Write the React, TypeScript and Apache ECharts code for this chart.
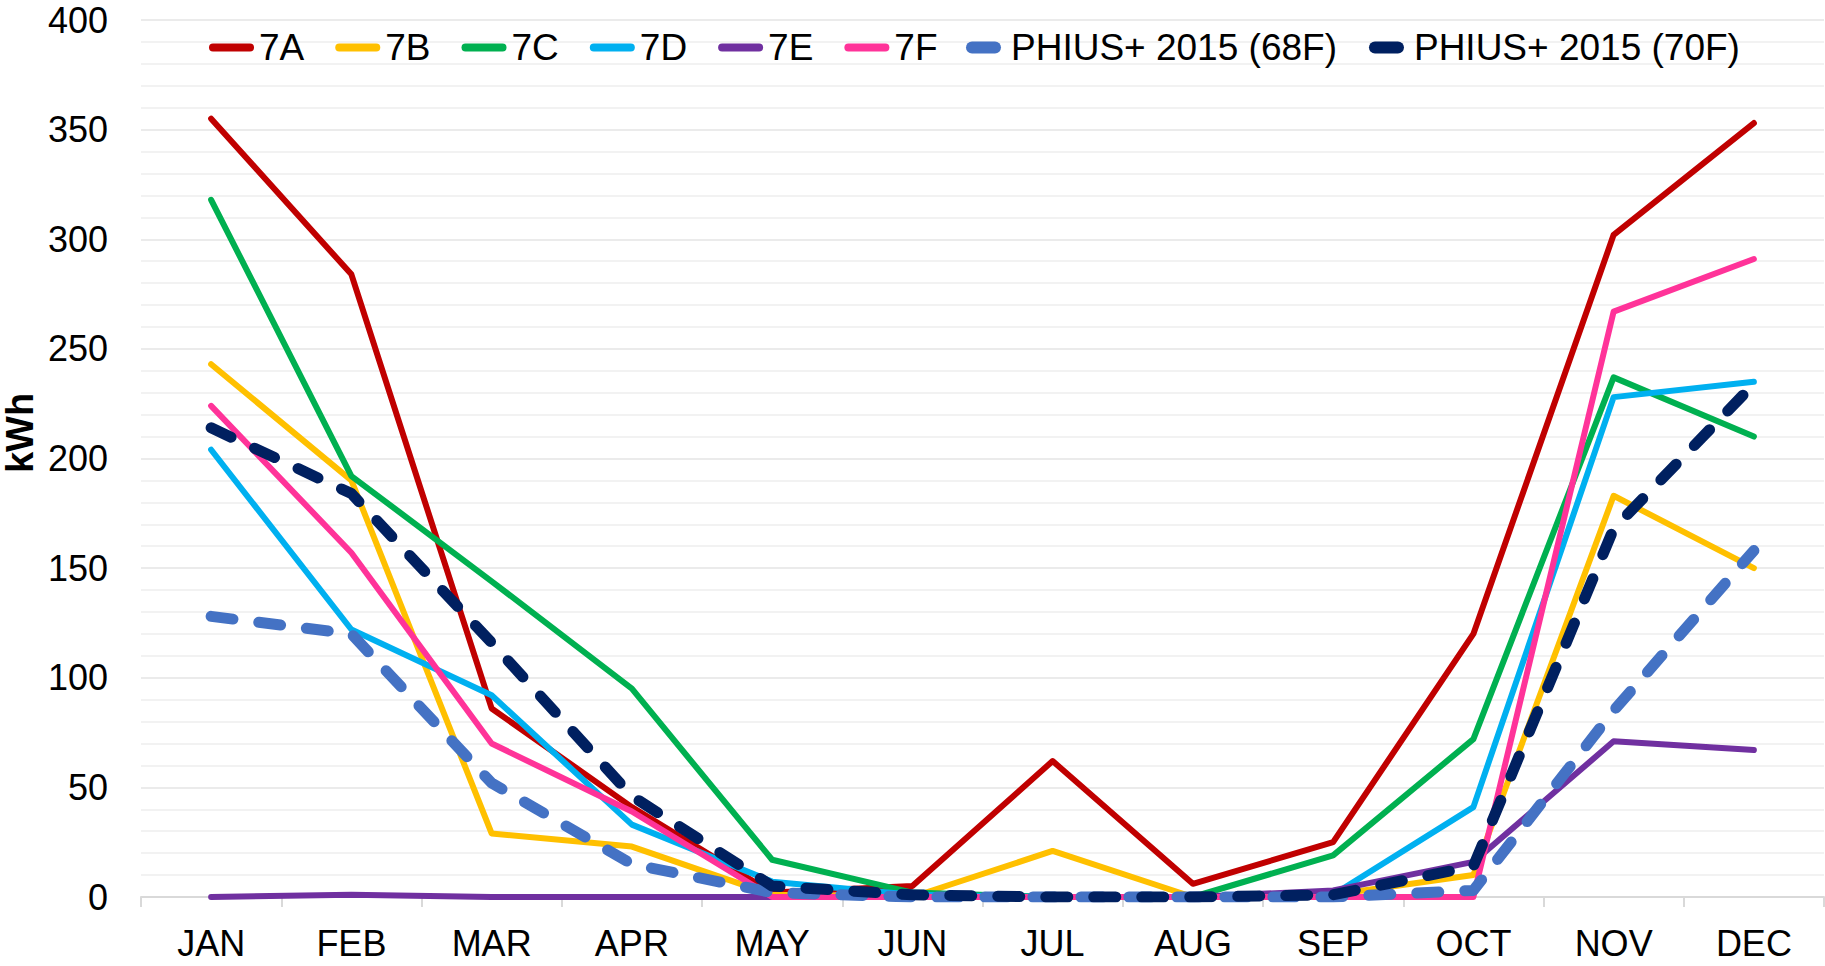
import React, { useEffect, useRef } from 'react';
import * as echarts from 'echarts';

const months = ['JAN', 'FEB', 'MAR', 'APR', 'MAY', 'JUN', 'JUL', 'AUG', 'SEP', 'OCT', 'NOV', 'DEC'];

const s7A = [355, 284, 86, 41, 2, 5, 62, 6, 25, 120, 302, 353];
const s7B = [243, 190, 29, 23, 1, 0, 21, 0, 1, 10, 183, 150];
const s7C = [318, 192, 144, 95, 17, 2, 0, 0, 19, 72, 237, 210];
const s7D = [204, 122, 92, 33, 7, 1, 0, 0, 1, 41, 228, 235];
const s7E = [0, 1, 0, 0, 0, 0, 0, 0, 3, 16, 71, 67];
const s7F = [224, 157, 70, 39, 0, 0, 0, 0, 0, 0, 267, 291];
const sP68 = [128, 120, 52, 15, 2, 0, 0, 0, 0, 3, 85, 158];
const sP70 = [214, 184, 116, 46, 5, 1, 0, 0, 1, 14, 168, 234];

const yTicks = { min: 0, max: 400, interval: 50 };

const FONT = "Arial, 'Liberation Sans', Helvetica, sans-serif";

export default function App() {
  const ref = useRef<HTMLDivElement>(null);

  useEffect(() => {
    const chart = echarts.init(ref.current!, null, { renderer: 'svg' });

    const solid = (name: string, data: number[], color: string) => ({
      name,
      type: 'line',
      data,
      symbol: 'none',
      color,
      itemStyle: { color },
      lineStyle: { color, width: 6, cap: 'round', join: 'round' },
      z: 2,
    });
    const dashed = (name: string, data: number[], color: string) => ({
      name,
      type: 'line',
      data,
      symbol: 'none',
      color,
      itemStyle: { color },
      lineStyle: { color, width: 11, type: [22, 26], cap: 'round', join: 'round' },
      z: 3,
    });

    chart.setOption({
      animation: false,
      backgroundColor: '#ffffff',
      textStyle: { fontFamily: FONT },
      grid: { left: 141, right: 1, top: 20, bottom: 69, containLabel: false },
      legend: [
        {
          data: ['7A', '7B', '7C', '7D', '7E', '7F'],
          left: 204,
          top: 24,
          orient: 'horizontal',
          itemWidth: 45,
          itemHeight: 8,
          itemGap: 31,
          icon: 'path://M4 0H41A4 4 0 0 1 41 8H4A4 4 0 0 1 4 0Z',
          itemStyle: { borderWidth: 0 },
          selectedMode: false,
          textStyle: { fontSize: 37, color: '#000', fontFamily: FONT },
        },
        {
          data: ['PHIUS+ 2015 (68F)', 'PHIUS+ 2015 (70F)'],
          left: 956,
          top: 24,
          orient: 'horizontal',
          itemWidth: 45,
          itemHeight: 12,
          itemGap: 27,
          icon: 'path://M0 6M45 6M11 0H34A6 6 0 0 1 34 12H11A6 6 0 0 1 11 0Z',
          itemStyle: { borderWidth: 0 },
          selectedMode: false,
          textStyle: { fontSize: 37, color: '#000', fontFamily: FONT },
        },
      ],
      xAxis: {
        type: 'category',
        data: months,
        boundaryGap: true,
        axisLine: { show: true, lineStyle: { color: '#d9d9d9', width: 2 } },
        axisTick: { show: true, length: 10, lineStyle: { color: '#d9d9d9', width: 2 } },
        axisLabel: { fontSize: 36, color: '#000', fontFamily: FONT, margin: 28 },
        splitLine: { show: false },
      },
      yAxis: {
        type: 'value',
        min: yTicks.min,
        max: yTicks.max,
        interval: yTicks.interval,
        axisLine: { show: false },
        axisTick: { show: false },
        axisLabel: { fontSize: 36, color: '#000', fontFamily: FONT, margin: 33 },
        splitLine: { show: true, lineStyle: { color: '#e4e4e4', width: 1.5 } },
        minorTick: { show: false, splitNumber: 5 },
        minorSplitLine: { show: true, lineStyle: { color: '#eeeeee', width: 1.5 } },
      },
      graphic: [
        {
          type: 'text',
          x: 20,
          y: 433,
          rotation: Math.PI / 2,
          style: {
            text: 'kWh',
            font: `bold 38px ${FONT}`,
            fill: '#000',
            textAlign: 'center',
            textVerticalAlign: 'middle',
          },
        },
      ],
      series: [
        solid('7A', s7A, '#C00000'),
        solid('7B', s7B, '#FFC000'),
        solid('7C', s7C, '#00B050'),
        solid('7D', s7D, '#00B0F0'),
        solid('7E', s7E, '#7030A0'),
        solid('7F', s7F, '#FF3399'),
        dashed('PHIUS+ 2015 (68F)', sP68, '#4472C4'),
        dashed('PHIUS+ 2015 (70F)', sP70, '#002060'),
      ],
    });

    return () => chart.dispose();
  }, []);

  return (
    <div
      ref={ref}
      style={{ position: 'absolute', left: 0, top: 0, width: 1825, height: 966 }}
    />
  );
}
